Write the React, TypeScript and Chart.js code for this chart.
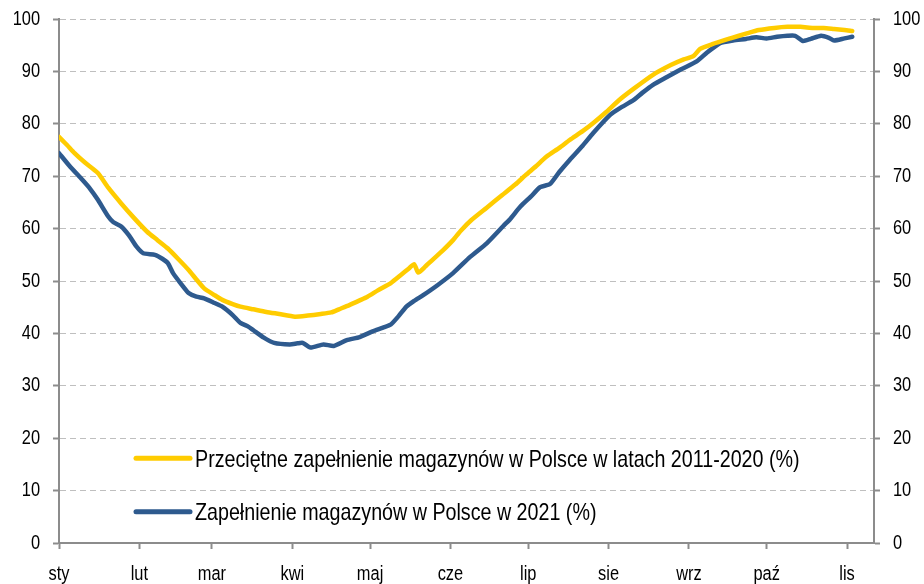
import React, { useEffect, useRef } from 'react';
import { Chart, registerables } from 'chart.js';

Chart.register(...registerables);

// Month start positions (day of year) and labels
const monthDays = [0, 31, 59, 90, 120, 151, 181, 212, 243, 273, 304];
const monthLabels = ['sty', 'lut', 'mar', 'kwi', 'maj', 'cze', 'lip', 'sie', 'wrz', 'paź', 'lis'];
const xMaxDay = 314.4;

// Y ticks
const yMin = 0;
const yMax = 100;
const yStep = 10;

// Series 1: average 2011-2020
const avgLabel = 'Przeciętne zapełnienie magazynów w Polsce w latach 2011-2020 (%)';
const avgDays = [0, 3, 6, 10, 15, 19, 24, 29, 34, 38, 42, 46, 50, 53, 56, 60, 63, 67, 70, 75, 80, 85, 91, 96, 101, 105, 108, 112, 116, 119, 123, 128, 132, 135, 137, 138.6, 141, 144, 148, 152, 155, 159, 165, 171, 176, 180, 184, 188, 193, 197, 202, 206, 211, 216, 222, 229, 236, 241, 244.7, 247.3, 252, 259, 265, 270, 276, 281, 286, 291, 295, 299, 303, 306];
const avgValues = [77.5, 76.0, 74.4, 72.6, 70.6, 67.8, 64.8, 62.0, 59.4, 57.8, 56.2, 54.2, 52.1, 50.3, 48.6, 47.3, 46.4, 45.6, 45.1, 44.6, 44.1, 43.7, 43.2, 43.4, 43.7, 44.0, 44.6, 45.4, 46.3, 47.0, 48.2, 49.6, 51.2, 52.4, 53.2, 51.6, 52.6, 54.0, 55.8, 57.8, 59.6, 61.6, 64.0, 66.4, 68.4, 70.2, 71.9, 73.7, 75.4, 76.9, 78.6, 80.1, 82.2, 84.5, 86.8, 89.3, 91.2, 92.3, 92.9, 94.3, 95.2, 96.3, 97.2, 97.9, 98.3, 98.5, 98.5, 98.3, 98.3, 98.1, 97.9, 97.7];

// Series 2: 2021
const y2021Label = 'Zapełnienie magazynów w Polsce w 2021 (%)';
const y2021Days = [0, 4, 9, 12, 15, 19, 21, 24, 27, 30, 32.5, 37, 40, 42, 44, 47, 50, 53, 56, 60, 63, 67, 70, 73, 75, 79, 83, 89, 92, 94, 97, 102, 106, 111, 116, 121, 125, 128, 131, 134, 137, 140.5, 146, 152, 158.6, 165, 171.4, 174, 178, 182, 185.6, 189.4, 193, 197, 202, 206, 212.6, 216.4, 221.6, 225, 229, 234, 240, 246, 250, 255, 260, 265, 269, 273, 277, 281, 284, 287, 290, 294, 297, 299, 303, 306];
const y2021Values = [74.4, 72.0, 69.3, 67.6, 65.5, 62.3, 61.2, 60.4, 58.7, 56.5, 55.3, 55.0, 54.2, 53.4, 51.5, 49.5, 47.7, 47.0, 46.7, 45.8, 45.1, 43.5, 42.0, 41.3, 40.6, 39.2, 38.2, 37.9, 38.1, 38.2, 37.3, 37.9, 37.6, 38.7, 39.3, 40.4, 41.1, 41.7, 43.3, 45.1, 46.2, 47.3, 49.2, 51.5, 54.6, 57.2, 60.5, 61.8, 64.2, 66.1, 67.9, 68.5, 70.8, 73.1, 75.8, 78.2, 81.7, 83.0, 84.5, 85.9, 87.4, 88.8, 90.4, 91.9, 93.6, 95.4, 95.9, 96.2, 96.5, 96.3, 96.6, 96.8, 96.8, 95.8, 96.2, 96.8, 96.4, 95.9, 96.3, 96.6];

const YELLOW = '#FFCC00';
const BLUE = '#2E5A8E';
const AXIS = '#8C8C8C';
const GRID = '#BFBFBF';
const FONT = "'Liberation Sans', Arial, sans-serif";
const NARROW = 0.82; // horizontal condensing to mimic a narrow face

const toPoints = (xs: number[], ys: number[]) => xs.map((x, i) => ({ x, y: ys[i] }));

function narrowText(ctx: CanvasRenderingContext2D, text: string, x: number, y: number, align: CanvasTextAlign, baseline: CanvasTextBaseline, size: number) {
  ctx.save();
  ctx.translate(x, y);
  ctx.scale(NARROW, 1);
  ctx.font = `${size}px ${FONT}`;
  ctx.fillStyle = '#000';
  ctx.textAlign = align;
  ctx.textBaseline = baseline;
  ctx.fillText(text, 0, 0);
  ctx.restore();
}

// Draws the axis tick labels (positions come from Chart.js scales) in a condensed face
const tickLabelPlugin = {
  id: 'narrowTickLabels',
  afterDraw(chart: any) {
    const { ctx, scales } = chart;
    const x = scales.x;
    const y = scales.y;
    const y2 = scales.y2;
    x.ticks.forEach((t: any) => {
      const i = monthDays.indexOf(t.value);
      if (i < 0) return;
      narrowText(ctx, monthLabels[i], x.getPixelForValue(t.value), x.top + 37, 'center', 'alphabetic', 20);
    });
    y.ticks.forEach((t: any) => {
      narrowText(ctx, String(t.value), y.right - 19, y.getPixelForValue(t.value), 'right', 'middle', 20);
    });
    y2.ticks.forEach((t: any) => {
      narrowText(ctx, String(t.value), y2.left + 19, y2.getPixelForValue(t.value), 'left', 'middle', 20);
    });
  },
};

const legendPlugin = {
  id: 'insideLegend',
  afterDatasetsDraw(chart: any) {
    const { ctx, chartArea } = chart;
    const rows = [
      { dy: 439.3, color: YELLOW, text: avgLabel },
      { dy: 492.7, color: BLUE, text: y2021Label },
    ];
    ctx.save();
    rows.forEach((r) => {
      const y = chartArea.top + r.dy;
      const x0 = chartArea.left + 77;
      ctx.strokeStyle = r.color;
      ctx.lineWidth = 5;
      ctx.lineCap = 'round';
      ctx.beginPath();
      ctx.moveTo(x0, y);
      ctx.lineTo(x0 + 54, y);
      ctx.stroke();
      narrowText(ctx, r.text, x0 + 59, y + 8.5, 'left', 'alphabetic', 24);
    });
    ctx.restore();
  },
};

export default function App() {
  const ref = useRef<HTMLCanvasElement>(null);
  useEffect(() => {
    if (!ref.current) return;
    const yAxisCommon = {
      min: yMin,
      max: yMax,
      ticks: {
        stepSize: yStep,
        display: false,
      },
      border: { display: true, color: AXIS, width: 2, dash: [6, 4] },
    };
    const chart = new Chart(ref.current, {
      type: 'line',
      data: {
        datasets: [
          {
            label: avgLabel,
            data: toPoints(avgDays, avgValues),
            borderColor: YELLOW,
            backgroundColor: YELLOW,
            borderWidth: 4.5,
            pointRadius: 0,
            tension: 0.2,
            borderCapStyle: 'round',
            borderJoinStyle: 'round',
            yAxisID: 'y',
          },
          {
            label: y2021Label,
            data: toPoints(y2021Days, y2021Values),
            borderColor: BLUE,
            backgroundColor: BLUE,
            borderWidth: 4.5,
            pointRadius: 0,
            tension: 0.2,
            borderCapStyle: 'round',
            borderJoinStyle: 'round',
            yAxisID: 'y',
          },
        ],
      },
      options: {
        responsive: false,
        animation: false,
        devicePixelRatio: 1,
        layout: { padding: { top: 19, left: 0, right: 0, bottom: 0 } },
        plugins: { legend: { display: false }, tooltip: { enabled: false } },
        scales: {
          x: {
            type: 'linear',
            min: 0,
            max: xMaxDay,
            afterBuildTicks: (scale: any) => {
              scale.ticks = monthDays.map((v) => ({ value: v }));
            },
            afterFit: (scale: any) => {
              scale.height = 41;
            },
            ticks: {
              autoSkip: false,
              maxRotation: 0,
              display: false,
            },
            grid: {
              drawOnChartArea: false,
              drawTicks: true,
              tickLength: 6,
              color: AXIS,
              tickColor: AXIS,
              tickWidth: 2,
            },
            border: { display: true, color: AXIS, width: 2 },
          },
          y: {
            ...yAxisCommon,
            position: 'left',
            afterFit: (scale: any) => {
              scale.width = 59;
            },
            grid: {
              drawOnChartArea: true,
              drawTicks: true,
              tickLength: 6,
              color: (c: any) => (c.tick && c.tick.value === 0 ? 'rgba(0,0,0,0)' : GRID),
              tickColor: AXIS,
              tickWidth: 2,
              tickBorderDash: [],
              lineWidth: 1,
            },
          },
          y2: {
            ...yAxisCommon,
            position: 'right',
            afterFit: (scale: any) => {
              scale.width = 50;
            },
            grid: {
              drawOnChartArea: false,
              drawTicks: true,
              tickLength: 6,
              color: AXIS,
              tickColor: AXIS,
              tickWidth: 2,
              tickBorderDash: [],
            },
          },
        },
      },
      plugins: [legendPlugin, tickLabelPlugin],
    } as any);
    return () => chart.destroy();
  }, []);

  return (
    <div style={{ position: 'absolute', left: 0, top: 0, width: 924, height: 584, background: '#fff' }}>
      <canvas ref={ref} width={924} height={584} style={{ display: 'block', width: 924, height: 584 }} />
    </div>
  );
}
